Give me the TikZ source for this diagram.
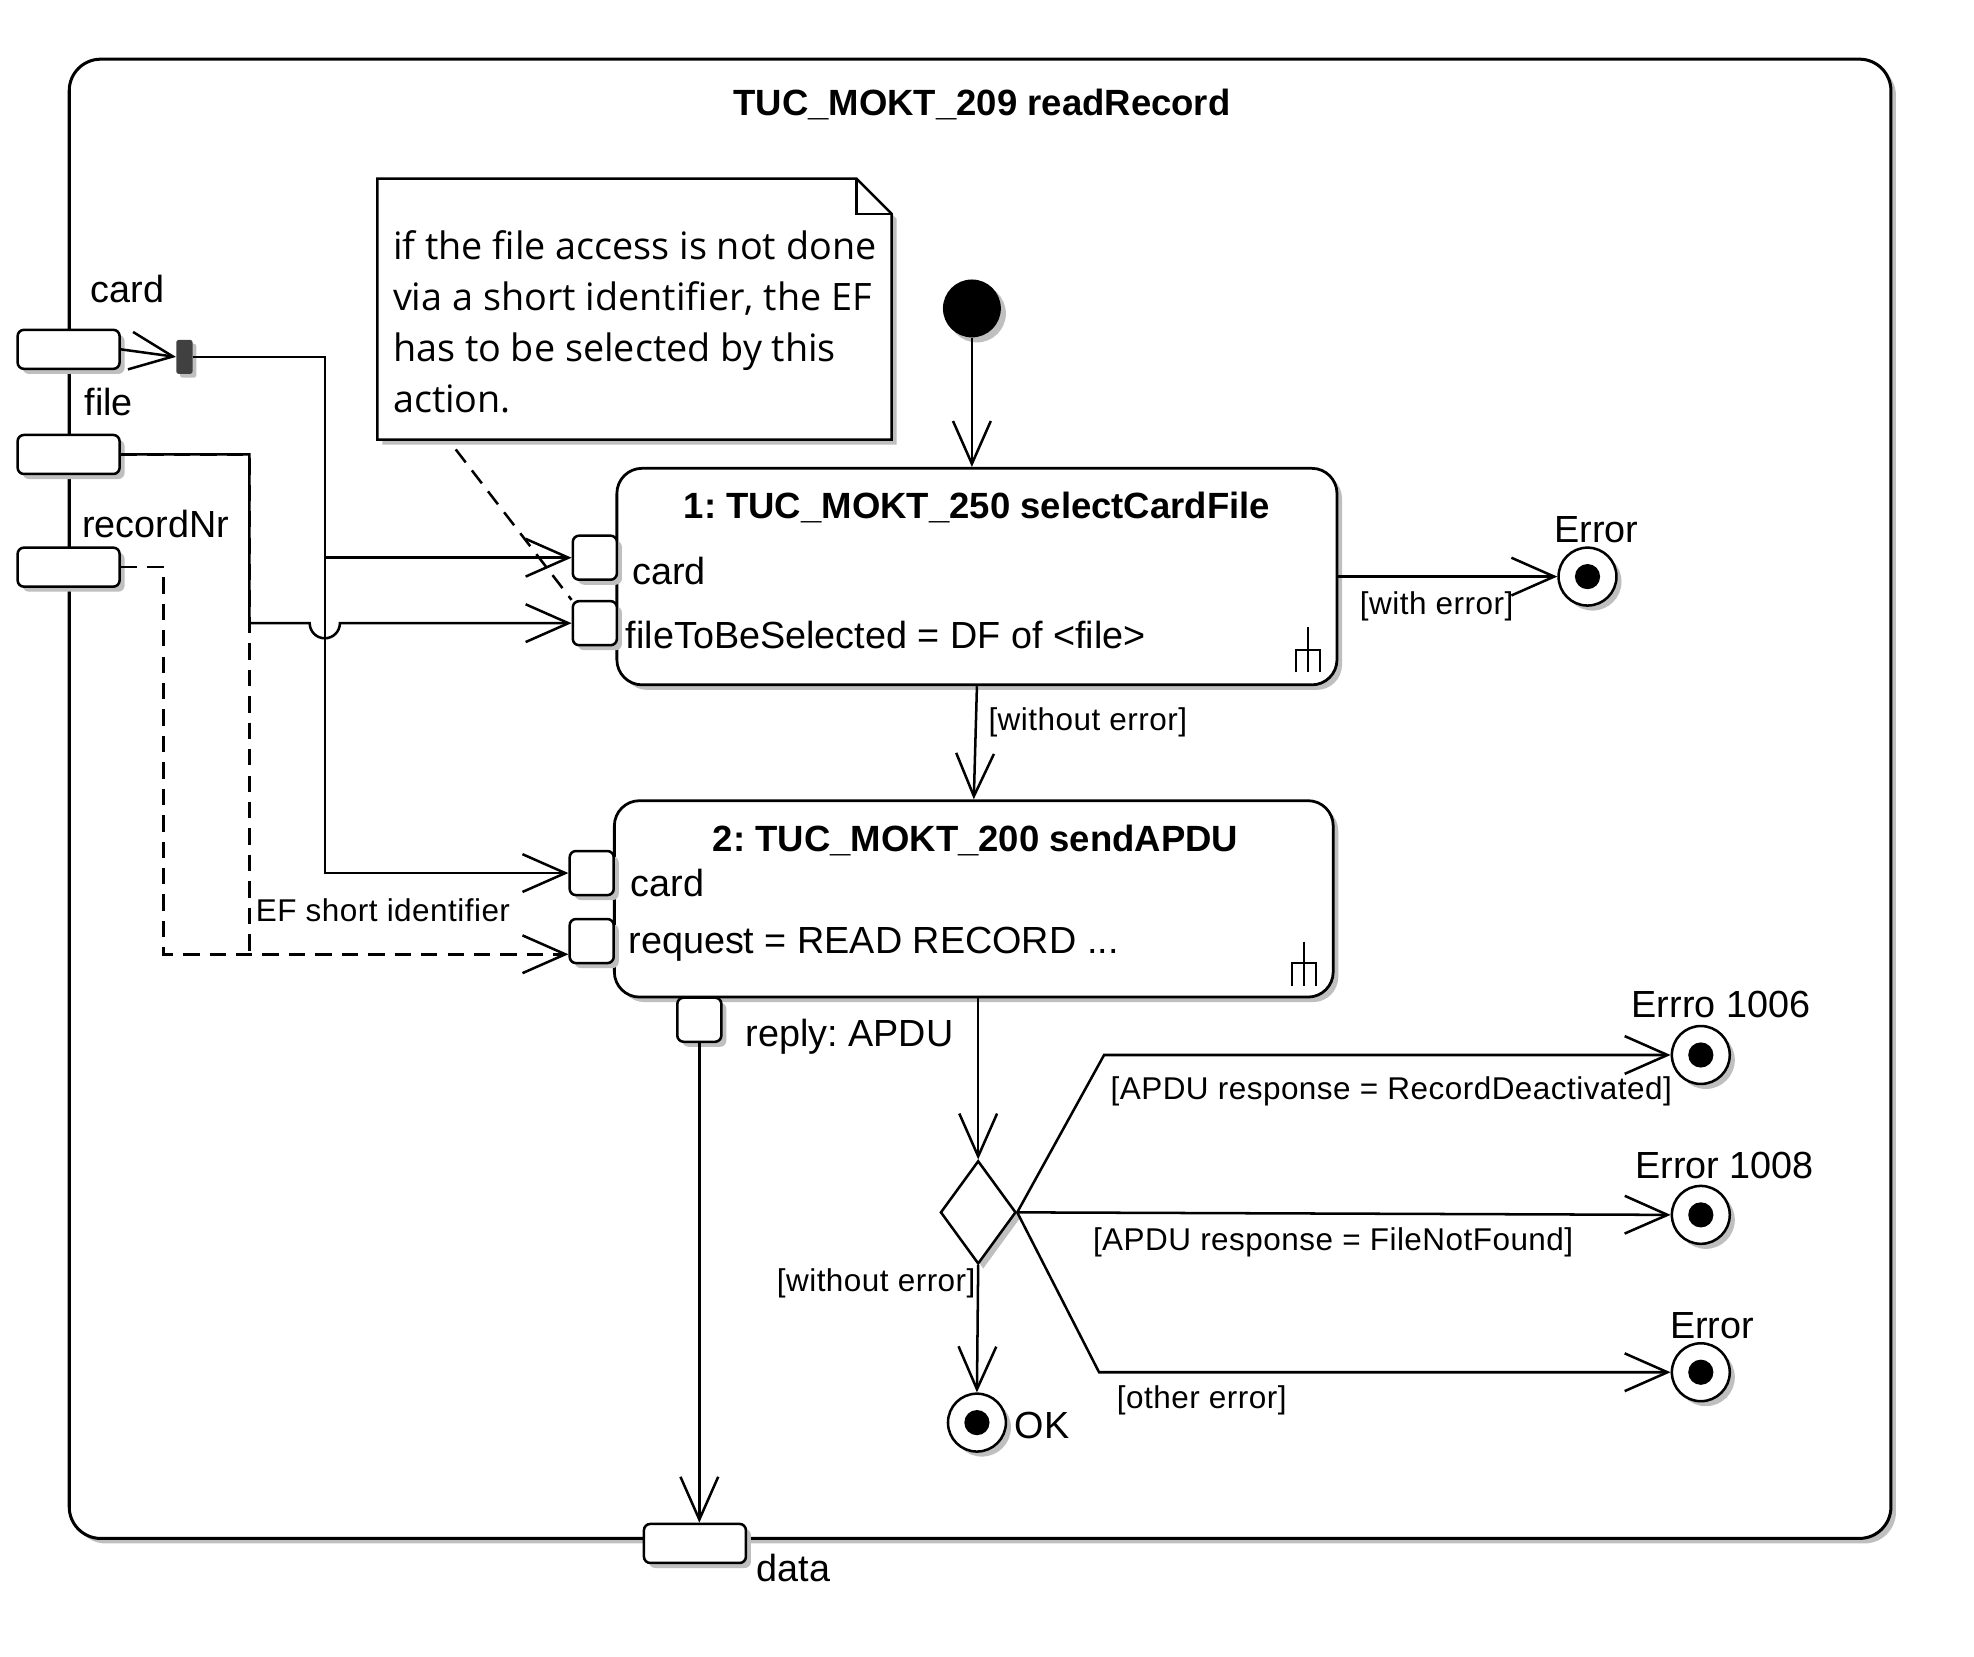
\documentclass[tikz,border=0pt]{standalone}
\usepackage{fontspec}
\setmainfont{Liberation Sans}
\newfontfamily\notefam{Open Sans}
\newfontfamily\grdfam[LetterSpace=1.5]{Liberation Sans}
\usetikzlibrary{arrows.meta,shadows,shapes.geometric,calc}
\newcommand\lblfont{\fontsize{30}{36}\selectfont}
\newcommand\ttlfont{\fontsize{29}{35}\selectfont\bfseries}
\newcommand\grdfont{\grdfam\fontsize{25}{30}\selectfont}
\newcommand\notetxt{\notefam\fontsize{30}{40.6}\selectfont}
\frenchspacing
\begin{document}
\begin{tikzpicture}[x=1pt,y=-1pt,
  ln/.style={line width=2pt},
  arr/.style={ln,-{Straight Barb[length=34pt,width=30pt,line width=2pt]}},
  dsh/.style={dash pattern=on 13pt off 8pt},
  shad/.style={drop shadow={shadow xshift=4pt,shadow yshift=-4pt,fill=black!25,opacity=1}},
  pinbox/.style={draw,line width=2pt,fill=white,rounded corners=5pt,minimum width=35pt,minimum height=35pt,inner sep=0pt,shad},
  parpin/.style={pinbox,minimum width=81pt,minimum height=31pt},
  action/.style={draw,line width=2.2pt,fill=white,rounded corners=20pt,inner sep=0pt,shad},
  endnode/.style={circle,draw,line width=2pt,fill=white,minimum size=46pt,inner sep=0pt,shad,
     path picture={\fill[black] (path picture bounding box.center) circle (10pt);}},
  txt/.style={inner sep=0pt,anchor=base west,font=\lblfont},
  ctxt/.style={inner sep=0pt,anchor=base,font=\lblfont},
  grd/.style={inner sep=0pt,anchor=base west,font=\grdfont},
  ttl/.style={inner sep=0pt,anchor=base,font=\ttlfont}]
\useasboundingbox (0,0) rectangle (1568,1316);
\fill[white] (0,0) rectangle (1568,1316);

% frame
\node[draw,line width=2.4pt,fill=white,rounded corners=25pt,minimum width=1447pt,minimum height=1175pt,inner sep=0pt,shad] (frame) at (778.5,634.5) {};
\node[ttl] (title) at (780,92) {TUC\_MOKT\_209 readRecord};

% parameter pins
\node[parpin] (pcard) at (54.5,277.5) {};
\node[parpin] (pfile) at (54.5,361) {};
\node[parpin] (prec) at (54.5,450.5) {};
\node[parpin] (data) at (552,1226) {};
\node[txt] (tcard) at (72,240) {card};
\node[txt] (tfile) at (67,330) {file};
\node[txt] (trec) at (65,427) {recordNr};
\node[txt] (tdata) at (601,1256) {data};

% fork
\node[fill=black!75,rounded corners=2pt,minimum width=13pt,minimum height=27pt,inner sep=0pt,drop shadow={shadow xshift=3pt,shadow yshift=-3pt,fill=black!25,opacity=1}] (fork) at (146.5,283.5) {};

% note
\node[minimum width=408pt,minimum height=207pt,inner sep=0pt] (note) at (504,245.5) {};
\fill[black!25] ([shift={(4,4)}]note.north west) -- ([shift={(-24,4)}]note.north east) -- ([shift={(4,32)}]note.north east) -- ([shift={(4,4)}]note.south east) -- ([shift={(4,4)}]note.south west) -- cycle;
\draw[ln,fill=white] (note.north west) -- ([xshift=-28pt]note.north east) -- ([shift={(0,28)}]note.north east) -- (note.south east) -- (note.south west) -- cycle;
\draw[ln] ([xshift=-28pt]note.north east) -- ([shift={(-28,28)}]note.north east) -- ([shift={(0,28)}]note.north east);
\node[anchor=north west,inner sep=0pt,align=left,font=\notetxt] (ntext) at (312,183) {if the file access is not done\\via a short identifier, the EF\\has to be selected by this\\action.};

% actions
\node[action,minimum width=572pt,minimum height=172pt] (a1) at (776,458) {};
\node[action,minimum width=571pt,minimum height=156pt] (a2) at (773.5,714) {};
\node[ttl] (a1t) at (776,412) {1: TUC\_MOKT\_250 selectCardFile};
\node[txt] (a1c) at (502,464) {card};
\node[txt] (a1f) at (497,515) {fileToBeSelected = DF of <file>};
\node[ttl] (a2t) at (775,676) {2: TUC\_MOKT\_200 sendAPDU};
\node[txt] (a2c) at (501,712) {card};
\node[txt] (a2r) at (499,757) {request = READ RECORD ...};

% rake symbols
\draw[line width=1.7pt] (1039,498) -- (1039,534) (1029.5,534) -- (1029.5,516) -- (1048.5,516) -- (1048.5,534);
\draw[line width=1.7pt] (1036,748) -- (1036,783) (1026.5,783) -- (1026.5,765) -- (1045.5,765) -- (1045.5,783);

% action pins
\node[pinbox] (a1card) at (472.5,443) {};
\node[pinbox] (a1file) at (472.5,495) {};
\node[pinbox] (a2card) at (470,693.5) {};
\node[pinbox] (a2req) at (470,747.5) {};
\node[pinbox] (a2out) at (555.5,810) {};
\node[txt] (treply) at (592,831) {reply: APDU};

% control nodes
\node[circle,fill=black,minimum size=46pt,inner sep=0pt,shad] (init) at (772,245) {};
\node[endnode] (e1) at (1261,458) {};
\node[endnode] (e2) at (1351,838) {};
\node[endnode] (e3) at (1351,965) {};
\node[endnode] (e4) at (1351,1090) {};
\node[endnode] (ok) at (776,1130) {};
\node[diamond,draw,line width=2pt,fill=white,minimum width=60pt,minimum height=82pt,inner sep=0pt,shad] (dec) at (777,963) {};

\node[ctxt] (le1) at (1268,431) {Error};
\node[ctxt] (le2) at (1367,808) {Errro 1006};
\node[ctxt] (le3) at (1370,936) {Error 1008};
\node[ctxt] (le4) at (1360,1063) {Error};
\node[txt] (lok) at (806,1143) {OK};

% coordinates
\coordinate (j1) at (258,283.5);
\coordinate (j2) at (258,443);
\coordinate (f1) at (198,361);
\coordinate (f2) at (198,495);
\coordinate (f3) at (198,758);
\coordinate (r1) at (130,450.5);
\coordinate (r2) at (130,758);
\coordinate (na) at (362,357);
\coordinate (b1) at (877,838);
\coordinate (b3) at (873,1090);

% connectors
\draw[arr] (pcard.east) -- (fork.west);
\draw[arr] (fork.east) -- (j1) |- (a2card.west);
\draw[arr] (j2) -- (a1card.west);
\draw[arr] (pfile.east) -- (f1) -- (f2) -- (246,495) arc[start angle=180,end angle=0,radius=12] -- (a1file.west);
\draw[ln,dsh] (pfile.east) -- (f1) -- (f3);
\draw[ln,dsh,-{Straight Barb[length=34pt,width=30pt,line width=2pt]}] (prec.east) -- (r1) -- (r2) -- (a2req.west |- r2);
\draw[ln,dsh] (na) -- (a1file.north west);
\node[grd] (ef) at (203,732) {EF short identifier};

\draw[arr] (init.south) -- (init.south |- a1.north);
\draw[arr] (a1.east |- e1) -- (e1.west);
\node[grd] (g1) at (1080,488) {[with error]};
\draw[arr] (a1.south) -- (a2.south |- a2.north);
\node[grd] (g2) at (785,580) {[without error]};
\draw[arr] (a2out.south) -- (a2out.south |- data.north);
\draw[arr] (dec.north |- a2.south) -- (dec.north);
\draw[arr] (dec.south) -- (ok.north);
\node[grd,anchor=base east] (g3) at (775,1026) {[without error]};
\draw[arr] (dec.east) -- (b1) -- (e2.west);
\node[grd] (g4) at (882,873) {[APDU response = RecordDeactivated]};
\draw[arr] (dec.east) -- (e3.west);
\node[grd] (g5) at (868,993) {[APDU response = FileNotFound]};
\draw[arr] (dec.east) -- (b3) -- (e4.west);
\node[grd] (g6) at (887,1119) {[other error]};
\end{tikzpicture}
\end{document}
